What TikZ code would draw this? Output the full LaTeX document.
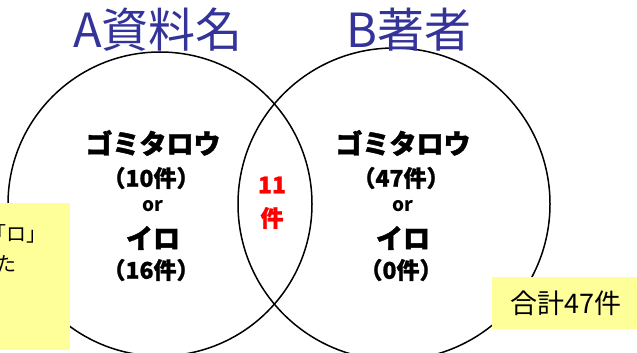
\documentclass[tikz,border=0pt]{standalone}
\usepackage{fontspec}
\setmainfont{Noto Sans CJK JP}
\definecolor{titleblue}{RGB}{51,51,153}
\definecolor{noteyellow}{RGB}{255,255,153}
\tikzset{
  x=1pt,y=-1pt,
  venn/.style={draw=black,line width=1.5pt},
  ttl/.style={text=titleblue,font=\fontsize{47}{50}\selectfont,inner sep=0pt},
  big/.style={font=\fontsize{27}{28}\selectfont\bfseries\addfontfeature{FakeBold=1.5},inner sep=0pt},
  cnt/.style={font=\fontsize{23}{24}\selectfont\bfseries\addfontfeature{FakeBold=1},inner sep=0pt},
  orr/.style={font=\fontsize{19}{20}\selectfont\bfseries,inner sep=0pt},
  red/.style={text=red,font=\fontsize{23}{24}\selectfont\bfseries\addfontfeature{FakeBold=1},inner sep=0pt},
  note/.style={fill=noteyellow,draw=none,inner sep=0pt},
  notetext/.style={font=\fontsize{20}{22}\selectfont,inner sep=0pt}
}
\begin{document}
\begin{tikzpicture}
\useasboundingbox[fill=white] (0,0) rectangle (637,353);
\draw[venn] (160,204) circle[radius=152];
\draw[venn] (394,204) circle[radius=156];
\node[ttl] (ta) at (158,30) {A資料名};
\node[ttl] (tb) at (409,30) {B著者};
\node[big] (a1) at (153,143) {ゴミタロウ};
\node[cnt] (a2) at (151,178) {（10件）};
\node[orr] (a3) at (153,206) {or};
\node[big] (a4) at (153,238) {イロ};
\node[cnt] (a5) at (151,270) {（16件）};
\node[big] (b1) at (403,143) {ゴミタロウ};
\node[cnt] (b2) at (401,178) {（47件）};
\node[orr] (b3) at (403,206) {or};
\node[big] (b4) at (403,238) {イロ};
\node[cnt] (b5) at (401,270) {（0件）};
\node[red] (c1) at (272,185) {11};
\node[red] (c2) at (272,218) {件};
\fill[note] (-5,203) rectangle (70,350);
\node[notetext,anchor=east] (n1) at (47,234) {「ロ」};
\node[notetext,anchor=east] (n2) at (17,264) {た};
\fill[note] (492,277) rectangle (640,329);
\node[notetext,font=\fontsize{27}{29}\selectfont] (n3) at (566,303) {合計47件};
\end{tikzpicture}
\end{document}
